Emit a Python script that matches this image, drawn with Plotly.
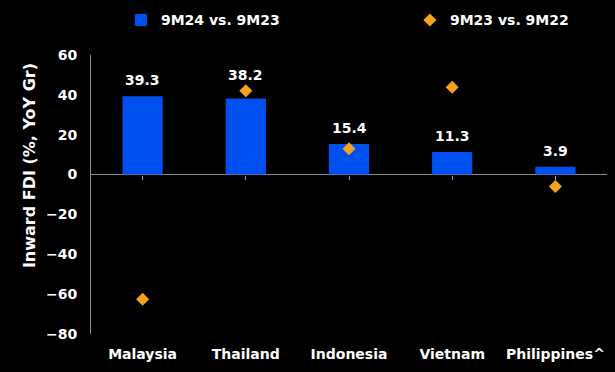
import plotly.graph_objects as go

categories = ["Malaysia", "Thailand", "Indonesia", "Vietnam", "Philippines^"]
fdi_9m24 = [39.3, 38.2, 15.4, 11.3, 3.9]
fdi_9m23 = [-62.5, 42.1, 13.0, 43.8, -6.0]
y_ticks = [-80, -60, -40, -20, 0, 20, 40, 60]
y_title = "Inward FDI (%, YoY Gr)"

FONT = "DejaVu Sans"
WHITE = "#FFFFFF"
GREY = "#8C8C8C"
BOLD14 = dict(family=FONT, size=14, color=WHITE, weight="bold")

fig = go.Figure()
fig.add_trace(go.Bar(
    x=categories, y=fdi_9m24, name="9M24 vs. 9M23",
    marker=dict(color="#0050EF", line=dict(width=0)),
    width=0.39, legend="legend",
))
fig.add_trace(go.Scatter(
    x=categories, y=fdi_9m23, name="9M23 vs. 9M22", mode="markers",
    marker=dict(symbol="diamond", size=10, color="#F7A21B", line=dict(width=0)),
    legend="legend2",
))
# invisible trace to carry the tick axis at y=0
fig.add_trace(go.Scatter(x=categories, y=[0]*len(categories), xaxis="x2",
                         mode="markers", marker=dict(size=1, color="rgba(0,0,0,0)"),
                         showlegend=False, hoverinfo="skip"))

# value labels above bars (lifted above a diamond sitting just on top of the bar)
for c, v, d in zip(categories, fdi_9m24, fdi_9m23):
    anchor = d if 0 < d - v < 8 else v
    fig.add_annotation(x=c, y=anchor, text=f"{v:.1f}", showarrow=False,
                       yanchor="bottom", yshift=6, font=BOLD14)

# y-axis title (placed like the reference, above the axis centre)
fig.add_annotation(xref="paper", yref="paper", x=-0.120, y=0.602, text=y_title,
                   textangle=-90, showarrow=False, xanchor="center", yanchor="middle",
                   font=dict(family=FONT, size=16, color=WHITE, weight="bold"))

ymin, ymax = -80, 60
fig.update_layout(
    width=615, height=372,
    paper_bgcolor="#000000", plot_bgcolor="#000000",
    margin=dict(l=91, r=8, t=55, b=38, autoexpand=False),
    font=dict(family=FONT, color=WHITE, size=14),
    showlegend=True,
    legend=dict(orientation="h", x=0.058, xanchor="left", y=1.124, yanchor="middle",
                itemwidth=30, font=BOLD14, bgcolor="rgba(0,0,0,0)"),
    legend2=dict(orientation="h", x=0.618, xanchor="left", y=1.124, yanchor="middle",
                 itemwidth=30, font=BOLD14, bgcolor="rgba(0,0,0,0)"),
    xaxis=dict(type="category", categoryorder="array", categoryarray=categories,
               showline=False, showgrid=False, ticks="", zeroline=False,
               ticklabelstandoff=10, tickfont=BOLD14, range=[-0.5, 4.5]),
    xaxis2=dict(type="category", categoryorder="array", categoryarray=categories,
                overlaying="x", anchor="free", position=(0 - ymin) / (ymax - ymin),
                side="bottom",
                showline=False, showgrid=False, ticks="outside", ticklen=4,
                tickcolor="#9A9A9A", tickwidth=1, showticklabels=False,
                range=[-0.5, 4.5]),
    yaxis=dict(range=[ymin, ymax], tickvals=y_ticks, showgrid=False,
               zeroline=True, zerolinecolor=GREY, zerolinewidth=1,
               showline=True, linecolor=GREY, linewidth=1, ticks="",
               ticklabelstandoff=10, tickfont=BOLD14),
)

fig.write_html("out.html", config={"displayModeBar": False},
               post_script="document.body.style.margin='0';document.body.style.background='#000';")
